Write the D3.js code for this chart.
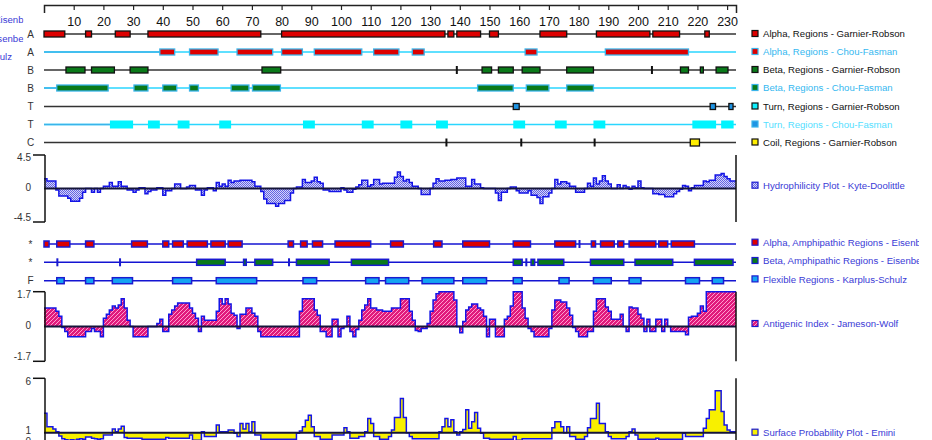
<!DOCTYPE html>
<html>
<head>
<meta charset="utf-8">
<script src="https://cdn.jsdelivr.net/npm/d3@7"></script>
<style>
body { margin: 0; background: #fff; }
svg { display: block; font-family: "Liberation Sans", Arial, sans-serif; }
</style>
</head>
<body>
<div id="chart"></div>
<script>
// sequence length and ruler
var nRes = 233;
var rulerTicks = [10, 20, 30, 40, 50, 60, 70, 80, 90, 100, 110, 120, 130, 140, 150, 160, 170, 180, 190, 200, 210, 220, 230];

// secondary structure regions, [start, end] in residue positions
var alphaGR = [[0, 7], [14, 16], [24, 29], [35, 73], [80, 135], [136, 138], [139, 147], [150, 153], [167, 176], [186, 204], [205, 214], [222.5, 224]];
var alphaCF = [[39, 44], [49, 58.6], [65, 77], [80, 87], [91, 107], [111, 119.5], [124, 128], [162, 166], [189, 217]];
var betaGR = [[7.4, 13.8], [16, 23.7], [29, 35], [73.4, 79.7], [147.5, 150.7], [153, 158], [161, 167], [176, 185], [214.3, 217], [221, 222], [226.3, 230.3]];
var betaGRMarks = [139, 204.7];
var betaCF = [[4.3, 21.6], [30.3, 35], [40, 44.7], [49, 52], [63, 69], [70.2, 79.6], [146, 158], [162.4, 170], [176, 185]];
var turnGR = [[158, 160], [224.3, 226.1], [230.6, 232]];
var turnCF = [[22.2, 30], [35, 39], [45, 49], [59, 63], [87.2, 91.2], [107, 111], [120, 124], [132, 136], [158, 162], [172, 176], [185, 189], [218.3, 226.3], [228, 232.2]];
var coilGR = [[217.6, 220.7]];
var coilGRMarks = [135.5, 160.7, 185.4];

// amphipathic / flexible regions
var alphaAmph = [[0, 1.7], [4.3, 8.7], [14, 16.8], [29.5, 34.8], [40, 42], [43.3, 46.9], [48.2, 55], [56.2, 61], [62, 66.7], [82.2, 84], [86.4, 88.6], [90.4, 93.8], [98, 110], [116.7, 121], [131.2, 134], [141, 150], [158, 163.8], [172, 179], [184.3, 185.7], [187.4, 192], [193.2, 195.2], [197, 206], [207, 210], [211.2, 219]];
var alphaAmphMarks = [180.3];
var betaAmph = [[51.4, 61], [67.2, 68.1], [71, 77], [85, 96], [103.5, 116], [158, 161], [164, 165.2], [166.3, 175], [184, 195.2], [199, 211.7], [219, 232]];
var betaAmphMarks = [4.5, 25.6, 82.5, 162.4];
var flexible = [[4.3, 6.8], [14, 16.8], [23, 29.8], [43.3, 49.7], [58, 71.6], [87.2, 91.8], [108.3, 112.8], [115, 122.8], [127.3, 138], [141, 149], [158, 161], [173.4, 176.8], [185, 191], [197, 201], [216, 220.7], [225, 228.8]];

// per-residue plots (residue 1..233)
var hydrophilicity = [
  1.3, 1.0, 1.0, 1.0, -0.2, -1.0, -1.0, -1.0, -1.3, -1.7,
  -1.7, -1.7, -1.3, -0.5, 0, 0, -0.5, 0, -0.5, 0,
  0.3, 0.3, 0.8, 0.3, 0.3, 0.9, 0.3, 0.3, -0.2, -0.2,
  -0.5, -0.2, 0.1, 0.1, -0.7, -0.4, -0.2, -0.2, 0.1, 0.1,
  -0.9, -0.3, -0.3, 0, 0.6, 0.6, 0, 0, 0.2, 0.4,
  0.4, -0.2, -0.2, -0.9, -0.2, 0.1, 0.1, -0.3, 0.8, 0.3,
  0.6, 0.3, 1.1, 0.8, 1.0, 1.0, 1.1, 1.1, 1.1, 1.1,
  0.9, 0.3, 0.3, -0.4, -1.4, -2.0, -2.0, -2.0, -2.4, -2.0,
  -2.0, -1.6, -1.6, -0.6, 0, 0.2, 0.2, 1.2, 0.8, 0.8,
  1.0, 1.5, 0.9, 0.7, -0.2, -0.2, -0.4, -0.4, -0.4, -0.4,
  0.1, -0.2, -0.5, -0.5, -0.1, 0.2, 0.5, 1.1, 1.1, 0.3,
  0.5, 1.2, 1.2, 0.6, 0.7, 0.7, 0.7, 0.7, 1.5, 2.2,
  1.6, 1.0, 1.2, 0.8, 0.3, 0.3, 0, -0.8, -0.8, -0.8,
  0, 0.7, 1.3, 1.0, 1.0, 1.1, 1.1, 1.2, 1.2, 1.4,
  1.4, 1.4, 0.3, 0.3, 1.2, 0.6, 0.6, 0.1, 0, 0,
  0, 0, -0.6, -1.6, -0.5, -0.5, 0, 0.2, 0.2, -0.3,
  -0.6, -0.6, -0.6, -0.3, -0.9, -0.9, -1.2, -2.0, -1.1, -1.1,
  -0.6, 0, 1.2, 0.6, 0.9, 0.9, 0.7, 0.3, 0.3, -0.5,
  -0.5, -0.5, 0, 0.7, 0.3, 1.4, 0.6, 1.0, 1.7, 1.0,
  0.6, 0, 0, 0.5, 0, 0.4, 0.2, -0.1, 0.3, 0.1,
  1.0, 0.1, 0, 0, 0, -0.7, -0.7, -0.8, -0.8, -1.1,
  -1.1, -1.1, -0.7, -0.4, -0.1, 0.4, 0.3, -0.3, 0.1, 0.4,
  0.4, 0.4, 1.0, 0.9, 1.1, 1.1, 1.8, 1.8, 2.0, 1.6,
  1.3, 1.0, 1.0
];
var antigenic = [
  0.9, 0.9, 0.9, 0.9, 0.75, 0.5, -0.05, -0.25, -0.5, -0.5,
  -0.5, -0.5, -0.5, -0.5, -0.25, -0.25, -0.1, -0.25, -0.25, -0.5,
  0.4, 0.6, 0.8, 1.0, 0.9, 1.05, 1.35, 0.9, 0.3, 0,
  -0.5, -0.5, -0.5, -0.5, -0.5, 0, 0, 0, 0.15, 0.35,
  -0.25, -0.25, 0.6, 0.8, 1.0, 1.15, 1.15, 1.15, 1.15, 0.9,
  0.65, 0.4, -0.25, 0.5, 0.3, 0.3, 0.3, 0.3, 0.75, 1.35,
  1.1, 1.35, 1.1, 0.65, 0.55, -0.1, 0.6, 0.6, 0.9, 0.9,
  0.65, 0.5, -0.25, -0.5, -0.5, -0.5, -0.5, -0.5, -0.5, -0.5,
  -0.5, -0.5, -0.5, -0.5, -0.5, -0.5, 0.75, 1.35, 1.35, 1.35,
  1.35, 0.8, 0.55, -0.25, -0.25, -0.5, -0.5, 0.35, 0.35, -0.5,
  -0.1, 0, 0.5, -0.25, -0.5, -0.15, 0.3, 0.8, 1.05, 1.35,
  0.9, 0.9, 0.8, 0.8, 0.75, 0.75, 0.75, 0.9, 0.9, 0.9,
  1.35, 1.35, 1.35, 0.75, 0.3, -0.2, -0.25, -0.1, -0.1, 0.15,
  0.75, 1.3, 1.6, 1.7, 1.7, 1.7, 1.7, 1.7, 1.3, 0,
  -0.3, 0.25, 0.8, 0.95, 1.1, 1.1, 0.9, 0.8, 0.5, -0.5,
  0.35, 0.35, -0.5, -0.5, -0.5, 0.35, 0.5, 1.0, 1.7, 1.7,
  1.7, 0.9, 0.4, -0.1, -0.25, -0.5, -0.5, -0.5, -0.5, -0.5,
  -0.1, 0.8, 1.3, 1.3, 1.2, 1.2, 0.9, 0.55, -0.05, -0.25,
  -0.5, -0.5, -0.5, -0.25, -0.25, 0.75, 1.35, 1.35, 1.35, 0.95,
  0.75, 0.35, 0.35, 0.35, 0.6, 0, -0.25, 0.95, 0.9, 0.9,
  0.6, 0.4, -0.25, 0.35, -0.25, -0.25, 0.35, 0.35, -0.25, 0.35,
  0, -0.25, -0.25, -0.25, -0.25, -0.25, -0.4, 0.45, 0.5, 0.5,
  0.65, 1.0, 0.75, 1.7, 1.7, 1.7, 1.7, 1.7, 1.7, 1.7,
  1.7, 1.7, 1.7
];
var surfaceProb = [
  2.8, 1.55, 1.55, 1.35, 1.1, 0.7, 0.45, 0.35, 0.3, 0.35,
  0.3, 0.4, 0.45, 0.4, 0.6, 0.6, 0.5, 0.45, 0.4, 0.45,
  0.8, 0.8, 0.8, 1.35, 1.1, 1.35, 1.6, 0.55, 0.5, 0.5,
  0.5, 0.5, 0.5, 0.4, 0.4, 0.4, 0.4, 0.4, 0.4, 0.4,
  0.4, 0.55, 0.5, 0.5, 0.5, 0.5, 0.5, 0.5, 0.5, 0.8,
  0.3, 0.3, 0.3, 1.1, 0.65, 0.65, 0.65, 0.65, 1.7, 1.1,
  1.1, 1.1, 1.25, 1.25, 0.95, 0.65, 1.85, 1.35, 1.85, 1.1,
  2.0, 0.8, 0.8, 0.4, 0.4, 0.4, 0.4, 0.4, 0.4, 0.4,
  0.4, 0.4, 0.4, 0.4, 0.4, 0.95, 1.15, 1.55, 2.15, 2.6,
  1.55, 0.65, 0.65, 0.4, 0.4, 0.4, 0.4, 0.8, 0.8, 0.8,
  0.8, 1.45, 1.1, 0.5, 0.5, 0.5, 0.65, 0.65, 1.1, 2.3,
  1.85, 0.65, 0.65, 0.4, 0.4, 0.4, 0.65, 1.25, 2.4, 2.4,
  4.15, 2.4, 1.0, 0.65, 0.45, 0.45, 0.45, 0.45, 0.45, 0.45,
  0.45, 0.45, 0.45, 1.1, 1.55, 2.3, 1.55, 2.2, 1.1, 0.8,
  1.1, 1.3, 3.1, 1.4, 2.0, 2.85, 1.4, 0.95, 0.5, 0.5,
  0.4, 0.4, 0.4, 0.4, 0.4, 0.4, 0.4, 0.4, 0.65, 0.3,
  0.3, 0.45, 0.45, 0.45, 0.45, 0.45, 0.45, 0.45, 0.45, 0.45,
  0.45, 1.45, 2.0, 2.0, 1.55, 1.0, 1.55, 0.65, 0.65, 0.4,
  0.4, 0.4, 0.65, 1.45, 2.3, 2.3, 3.7, 1.85, 1.85, 1.1,
  0.65, 0.45, 0.45, 0.45, 0.45, 0.45, 0.65, 1.1, 1.35, 0.8,
  0.4, 0.4, 0.4, 0.4, 0.4, 0.4, 0.5, 0.4, 0.4, 0.4,
  0.4, 0.4, 0.4, 0.4, 0.4, 0.95, 0.65, 0.65, 0.65, 0.65,
  0.65, 0.65, 1.4, 2.3, 3.1, 3.1, 4.85, 4.85, 2.95, 1.7,
  1.25, 1.1, 1.1
];

// legend texts
var topLegend = ["Alpha, Regions - Garnier-Robson", "Alpha, Regions - Chou-Fasman", "Beta, Regions - Garnier-Robson",
  "Beta, Regions - Chou-Fasman", "Turn, Regions - Garnier-Robson", "Turn, Regions - Chou-Fasman", "Coil, Regions - Garnier-Robson"];
var topLetters = ["A", "A", "B", "B", "T", "T", "C"];
var lowLegend = ["Hydrophilicity Plot - Kyte-Doolittle", "Alpha, Amphipathic Regions - Eisenberg", "Beta, Amphipathic Regions - Eisenberg",
  "Flexible Regions - Karplus-Schulz", "Antigenic Index - Jameson-Wolf", "Surface Probability Plot - Emini"];
var lowLetters = ["*", "*", "F"];

var width = 932, height = 440;
var svg = d3.select("#chart").append("svg")
    .attr("width", width)
    .attr("height", height);

var defs = svg.append("defs");
var hp = defs.append("pattern").attr("id", "hydroPat").attr("patternUnits", "userSpaceOnUse")
    .attr("width", 2).attr("height", 2);
hp.append("rect").attr("width", 2).attr("height", 2).attr("fill", "#d4d4fa");
hp.append("rect").attr("width", 1).attr("height", 1).attr("fill", "#6464e2");
hp.append("rect").attr("x", 1).attr("y", 1).attr("width", 1).attr("height", 1).attr("fill", "#6464e2");
var ap = defs.append("pattern").attr("id", "antiPat").attr("patternUnits", "userSpaceOnUse")
    .attr("width", 4).attr("height", 4);
ap.append("rect").attr("width", 4).attr("height", 4).attr("fill", "#e01a7c");
ap.append("path").attr("d", "M-1,1L1,-1M0,4L4,0M3,5L5,3").attr("stroke", "#ff9ccf").attr("stroke-width", 1);
defs.append("clipPath").attr("id", "leftClip").append("rect").attr("x", 0).attr("y", 0).attr("width", 23.5).attr("height", 80);
defs.append("clipPath").attr("id", "legClip").append("rect").attr("x", 740).attr("y", 0).attr("width", 179).attr("height", 440);

var x = d3.scaleLinear().domain([0, nRes]).range([44, 736]);

// ruler
var ruler = svg.append("g")
    .attr("transform", "translate(0,5)")
    .call(d3.axisBottom(x).tickValues(rulerTicks).tickSize(5).tickSizeOuter(8).tickPadding(7));
ruler.select(".domain").attr("stroke", "#222").attr("stroke-width", 1.5);
ruler.selectAll(".tick line").attr("stroke", "#222").attr("stroke-width", 1.2);
ruler.selectAll(".tick text").attr("font-size", 12.5).attr("fill", "#111")
    .attr("font-family", "Liberation Sans, Arial, sans-serif");

// clipped legend fragments at the left edge
var frag = svg.append("g").attr("clip-path", "url(#leftClip)")
    .attr("font-size", 9.6).attr("fill", "#3a3ad6");
frag.append("text").attr("x", 23.5).attr("y", 20).attr("dy", "0.35em").attr("text-anchor", "end").text("Alpha, Amphipathic Regions - Eisenb");
frag.append("text").attr("x", 23.5).attr("y", 38.5).attr("dy", "0.35em").attr("text-anchor", "end").text("Beta, Amphipathic Regions - Eisenbe");
frag.append("text").attr("x", 12).attr("y", 57).attr("dy", "0.35em").attr("text-anchor", "end").text("Flexible Regions - Karplus-Schulz");

var legend = svg.append("g").attr("clip-path", "url(#legClip)");

var cyanLine = "#2ad6ff", cfBorder = "#3ab4ea";
var trackY = [34, 52, 70, 88, 106.5, 124.5, 142.5];
var tracks = [
  { regions: alphaGR, marks: [], line: "#333", lead: null, fill: "#dd0000", stroke: "#111", h: 6 },
  { regions: alphaCF, marks: [], line: cyanLine, lead: cfBorder, fill: "#dd0000", stroke: cfBorder, h: 6 },
  { regions: betaGR, marks: betaGRMarks, line: "#333", lead: null, fill: "#0a7a1a", stroke: "#111", h: 6 },
  { regions: betaCF, marks: [], line: cyanLine, lead: cfBorder, fill: "#0a7a1a", stroke: cfBorder, h: 6 },
  { regions: turnGR, marks: [], line: "#333", lead: null, fill: "#1e94e4", stroke: "#111", h: 6 },
  { regions: turnCF, marks: [], line: cyanLine, lead: cfBorder, fill: "#00f4ff", stroke: "none", h: 8 },
  { regions: coilGR, marks: coilGRMarks, line: "#333", lead: null, fill: "#ffee00", stroke: "#111", h: 7 }
];
var topLegendStyle = [
  { fill: "#dd0000", stroke: "#111", text: "#111" },
  { fill: "#dd0000", stroke: cfBorder, text: "#35b8f0" },
  { fill: "#0a7a1a", stroke: "#111", text: "#111" },
  { fill: "#0a7a1a", stroke: cfBorder, text: "#35b8f0" },
  { fill: "#10f0ff", stroke: "#111", text: "#111" },
  { fill: "#1e94e4", stroke: cfBorder, text: "#55e0ff" },
  { fill: "#ffee00", stroke: "#111", text: "#111" }
];

function drawTrack(y, letter, t, markColor, sw) {
  svg.append("text").attr("x", 30.5).attr("y", y).attr("dy", "0.36em")
      .attr("text-anchor", "middle").attr("font-size", 10).attr("fill", "#333").text(letter);
  svg.append("line").attr("x1", x(0)).attr("x2", x(nRes)).attr("y1", y).attr("y2", y)
      .attr("stroke", t.line).attr("stroke-width", 1.5);
  if (t.lead && t.regions.length) {
    // the run before the first region is drawn in the darker cyan
    svg.append("line").attr("x1", x(0)).attr("x2", x(t.regions[0][0])).attr("y1", y).attr("y2", y)
        .attr("stroke", t.lead).attr("stroke-width", 1.5);
  }
  svg.append("g").selectAll("rect").data(t.regions).enter().append("rect")
      .attr("x", function (d) { return x(d[0]); })
      .attr("y", y - t.h / 2)
      .attr("width", function (d) { return x(d[1]) - x(d[0]); })
      .attr("height", t.h)
      .attr("fill", t.fill)
      .attr("stroke", t.stroke)
      .attr("stroke-width", sw);
  svg.append("g").selectAll("rect").data(t.marks).enter().append("rect")
      .attr("x", function (d) { return x(d) - 1; })
      .attr("y", y - 4)
      .attr("width", 2)
      .attr("height", 8)
      .attr("fill", markColor);
}

tracks.forEach(function (t, i) {
  drawTrack(trackY[i], topLetters[i], t, "#111", 1.3);
  var st = topLegendStyle[i];
  legend.append("rect").attr("x", 752).attr("y", trackY[i] - 3.5).attr("width", 6).attr("height", 6)
      .attr("fill", st.fill).attr("stroke", st.stroke).attr("stroke-width", 1.2);
  legend.append("text").attr("x", 763).attr("y", trackY[i]).attr("dy", "0.36em")
      .attr("font-size", 9.6).attr("fill", st.text).text(topLegend[i]);
});

// step points: residue i covers [i-1, i]
function steps(vals) {
  var pts = [];
  vals.forEach(function (v, i) { pts.push({ p: i, v: v }); pts.push({ p: i + 1, v: v }); });
  return pts;
}

function leftAxis(y0, y1, ticks) {
  svg.append("line").attr("x1", 45).attr("x2", 45).attr("y1", y0).attr("y2", y1)
      .attr("stroke", "#111").attr("stroke-width", 1.5);
  svg.append("line").attr("x1", x(nRes)).attr("x2", x(nRes)).attr("y1", y0).attr("y2", y1)
      .attr("stroke", "#111").attr("stroke-width", 1.5);
  ticks.forEach(function (t) {
    if (t.tick) {
      svg.append("line").attr("x1", 33).attr("x2", 45).attr("y1", t.y).attr("y2", t.y)
          .attr("stroke", "#111").attr("stroke-width", 1.5);
    }
    svg.append("text").attr("x", 31).attr("y", t.ly).attr("dy", "0.35em").attr("text-anchor", "end")
        .attr("font-size", 10).attr("fill", "#333").text(t.label);
  });
}

var lowText = "#3a3ad6", lowBorder = "#1a1ad0";
function lowLegendItem(y, fill, label) {
  legend.append("rect").attr("x", 752).attr("y", y - 3.5).attr("width", 6).attr("height", 6)
      .attr("fill", fill).attr("stroke", lowBorder).attr("stroke-width", 1.2);
  legend.append("text").attr("x", 763).attr("y", y).attr("dy", "0.36em")
      .attr("font-size", 9.6).attr("fill", lowText).text(label);
}

// hydrophilicity
var yH = d3.scaleLinear().domain([-4.5, 4.5]).range([222, 155]);
var hPts = steps(hydrophilicity);
svg.append("path").datum(hPts)
    .attr("d", d3.area().x(function (d) { return x(d.p); }).y0(yH(0)).y1(function (d) { return yH(d.v); }))
    .attr("fill", "url(#hydroPat)");
svg.append("path").datum(hPts)
    .attr("d", d3.line().x(function (d) { return x(d.p); }).y(function (d) { return yH(d.v); }))
    .attr("fill", "none").attr("stroke", "#1414e6").attr("stroke-width", 1.5);
svg.append("line").attr("x1", x(0)).attr("x2", x(nRes)).attr("y1", yH(0)).attr("y2", yH(0))
    .attr("stroke", "#15153a").attr("stroke-width", 2);
leftAxis(yH(4.5), yH(-4.5), [
  { y: yH(4.5), ly: yH(4.5) + 2.5, label: "4.5", tick: true },
  { y: yH(0), ly: yH(0) - 1.5, label: "0", tick: false },
  { y: yH(-4.5), ly: yH(-4.5) - 5, label: "-4.5", tick: true }
]);
lowLegendItem(185.7, "url(#hydroPat)", lowLegend[0]);

// amphipathic and flexible tracks
var lowY = [244, 262.3, 280.7];
var lowTracks = [
  { regions: alphaAmph, marks: alphaAmphMarks, line: "#1414d2", lead: null, fill: "#dd0000", stroke: lowBorder, h: 6 },
  { regions: betaAmph, marks: betaAmphMarks, line: "#1414d2", lead: null, fill: "#0a7a1a", stroke: lowBorder, h: 6 },
  { regions: flexible, marks: [], line: "#1414d2", lead: null, fill: "#14a4f2", stroke: lowBorder, h: 6 }
];
var lowFills = ["#dd0000", "#0a7a1a", "#14a4f2"];
lowTracks.forEach(function (t, i) {
  drawTrack(lowY[i], lowLetters[i], t, lowBorder, 1.5);
  lowLegendItem(lowY[i] - 1.3, lowFills[i], lowLegend[i + 1]);
});

// antigenic index
var yA = d3.scaleLinear().domain([-1.7, 1.7]).range([361.3, 291.7]);
var aPts = steps(antigenic);
svg.append("path").datum(aPts)
    .attr("d", d3.area().x(function (d) { return x(d.p); }).y0(yA(0)).y1(function (d) { return yA(d.v); }))
    .attr("fill", "url(#antiPat)");
svg.append("path").datum(aPts)
    .attr("d", d3.line().x(function (d) { return x(d.p); }).y(function (d) { return yA(d.v); }))
    .attr("fill", "none").attr("stroke", "#1414e6").attr("stroke-width", 1.5);
svg.append("line").attr("x1", x(0)).attr("x2", x(nRes)).attr("y1", yA(0)).attr("y2", yA(0))
    .attr("stroke", "#15153a").attr("stroke-width", 2);
leftAxis(yA(1.7), yA(-1.7), [
  { y: yA(1.7), ly: yA(1.7) + 3, label: "1.7", tick: true },
  { y: yA(0), ly: yA(0) - 1.5, label: "0", tick: false },
  { y: yA(-1.7), ly: yA(-1.7) - 5, label: "-1.7", tick: true }
]);
lowLegendItem(324, "url(#antiPat)", lowLegend[4]);

// surface probability
var yS = d3.scaleLinear().domain([0, 6]).range([443.6, 378.3]);
var sPts = steps(surfaceProb);
svg.append("path").datum(sPts)
    .attr("d", d3.area().x(function (d) { return x(d.p); }).y0(yS(1)).y1(function (d) { return yS(d.v); }))
    .attr("fill", "#f8f000");
svg.append("path").datum(sPts)
    .attr("d", d3.line().x(function (d) { return x(d.p); }).y(function (d) { return yS(d.v); }))
    .attr("fill", "none").attr("stroke", "#1414e6").attr("stroke-width", 1.5);
svg.append("line").attr("x1", x(0)).attr("x2", x(nRes)).attr("y1", yS(1)).attr("y2", yS(1))
    .attr("stroke", "#15153a").attr("stroke-width", 2);
leftAxis(yS(6), yS(0), [
  { y: yS(6), ly: yS(6) + 3.2, label: "6", tick: true },
  { y: yS(1), ly: yS(1) - 2, label: "1", tick: false },
  { y: yS(0), ly: yS(0) - 2.5, label: "0", tick: true }
]);
lowLegendItem(432.7, "#f8f000", lowLegend[5]);
</script>
</body>
</html>
